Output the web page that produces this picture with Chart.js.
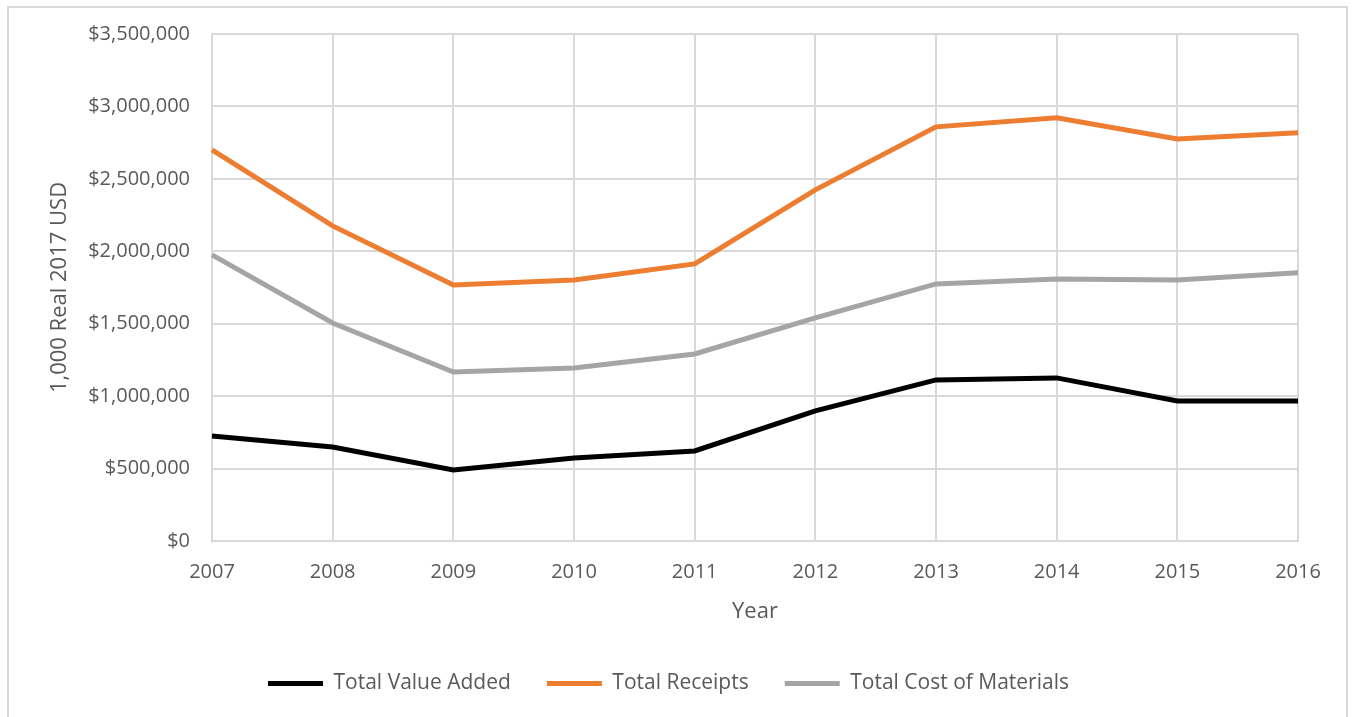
<!DOCTYPE html>
<html>
<head>
<meta charset="utf-8">
<script src="https://cdn.jsdelivr.net/npm/chart.js@4.4.1/dist/chart.umd.min.js"></script>
<style>
  body { margin: 0; background: #fff; }
  #wrap { position: relative; width: 1354px; height: 717px; overflow: hidden; }
  #frame { position: absolute; left: 7px; top: 6px; width: 1341px; height: 720px; border: 2px solid #d9d9d9; box-sizing: border-box; }
  canvas { position: absolute; left: 0; top: 0; }
</style>
</head>
<body>
<div id="wrap">
  <div id="frame"></div>
  <canvas id="myChart" width="1354" height="717"></canvas>
</div>
<script>
var years = ['2007', '2008', '2009', '2010', '2011', '2012', '2013', '2014', '2015', '2016'];
var valueAdded = [725000, 649000, 490000, 573000, 622000, 898000, 1112000, 1126000, 967000, 967000];
var receipts = [2700000, 2175000, 1768000, 1802000, 1913000, 2424000, 2859000, 2921000, 2776000, 2818000];
var costOfMaterials = [1975000, 1505000, 1167000, 1195000, 1291000, 1540000, 1775000, 1809000, 1802000, 1851000];

var gridColor = '#d9d9d9';
var textColor = '#595959';
Chart.defaults.font.family = '"Open Sans", sans-serif';
Chart.defaults.color = textColor;

function line(label, data, color) {
  return {
    label: label,
    data: data,
    borderColor: color,
    backgroundColor: color,
    borderWidth: 5,
    pointRadius: 0,
    tension: 0,
    fill: false
  };
}

function createChart() {
  var ctx = document.getElementById('myChart').getContext('2d');
  new Chart(ctx, {
    type: 'line',
    data: {
      labels: years,
      datasets: [
        line('Total Value Added', valueAdded, '#000000'),
        line('Total Receipts', receipts, '#ed7d31'),
        line('Total Cost of Materials', costOfMaterials, '#a5a5a5')
      ]
    },
    options: {
      responsive: false,
      animation: false,
      layout: { padding: { left: 39, right: 56, top: 34, bottom: 13 } },
      plugins: {
        tooltip: { enabled: false },
        legend: {
          position: 'bottom',
          labels: {
            boxWidth: 55,
            boxHeight: 5,
            padding: 36,
            font: { size: 21 },
            color: textColor,
            generateLabels: function (chart) {
              var items = Chart.defaults.plugins.legend.labels.generateLabels(chart);
              items.forEach(function (it) {
                it.fillStyle = it.strokeStyle;
                it.lineWidth = 0;
              });
              return items;
            }
          }
        }
      },
      scales: {
        x: {
          type: 'category',
          offset: false,
          grid: { color: gridColor, lineWidth: 2, drawTicks: false },
          border: { color: gridColor, width: 2 },
          ticks: { padding: 19, font: { size: 20 }, color: textColor, maxRotation: 0 },
          title: { display: true, text: 'Year', font: { size: 22 }, color: textColor, padding: { top: 0, bottom: 12 } },
          afterFit: function (scale) { scale.height = 96; }
        },
        y: {
          min: 0,
          max: 3500000,
          grid: { color: gridColor, lineWidth: 2, drawTicks: false },
          border: { display: false },
          ticks: {
            stepSize: 500000,
            padding: 22,
            font: { size: 20 },
            color: textColor,
            callback: function (v) { return '$' + v.toLocaleString('en-US'); }
          },
          title: { display: true, text: '1,000 Real 2017 USD', font: { size: 22 }, color: textColor, padding: { top: 8, bottom: 0 } },
          afterFit: function (scale) { scale.width = 173; }
        }
      }
    }
  });
}
createChart();
</script>
</body>
</html>
